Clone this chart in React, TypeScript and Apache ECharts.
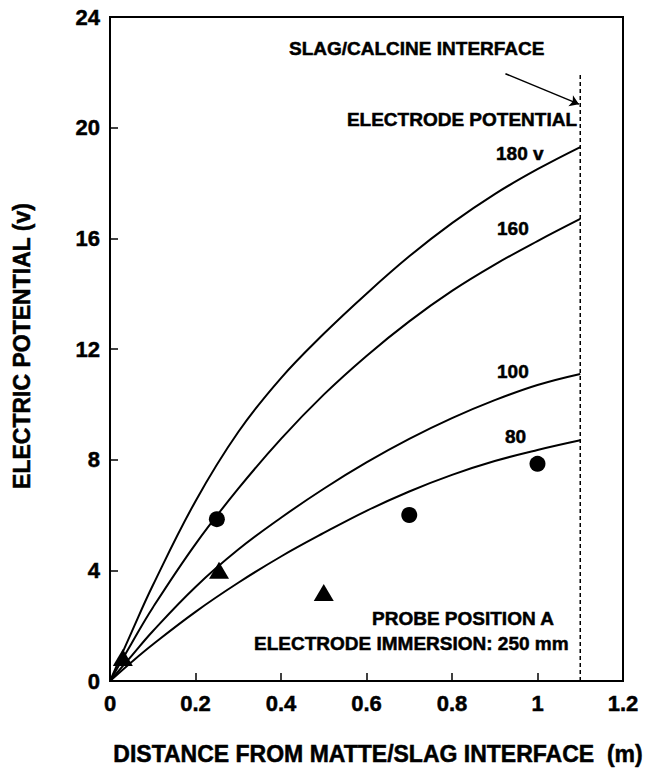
import React, { useEffect, useRef } from "react";
import * as echarts from "echarts";

const xValues = [0, 0.05, 0.1, 0.2, 0.3, 0.4, 0.5, 0.6, 0.7, 0.8, 0.9, 1.0, 1.1];
const curve180 = [0, 1.75, 3.45, 6.5, 9.0, 10.95, 12.55, 14.0, 15.35, 16.55, 17.6, 18.5, 19.3];
const curve160 = [0, 1.35, 2.65, 4.95, 6.95, 8.75, 10.35, 11.75, 13.0, 14.1, 15.05, 15.9, 16.7];
const curve100 = [0, 0.9, 1.8, 3.4, 4.75, 5.9, 6.95, 7.9, 8.75, 9.5, 10.15, 10.7, 11.1];
const curve80 = [0, 0.68, 1.32, 2.5, 3.55, 4.5, 5.35, 6.15, 6.85, 7.45, 7.95, 8.35, 8.7];

const circlePts = [
  [0.25, 5.85],
  [0.7, 6.0],
  [1.0, 7.85],
];
const trianglePts = [
  [0.03, 0.85],
  [0.255, 4.0],
  [0.5, 3.2],
];
const interfaceLine = [
  [1.1, 0],
  [1.1, 21.9],
];
const arrowCoords = [
  [0.925, 21.95],
  [1.097, 20.85],
];

const xTicks = { min: 0, max: 1.2, interval: 0.2 };
const yTicks = { min: 0, max: 24, interval: 4 };

const FONT = "'Liberation Sans', Arial, Helvetica, sans-serif";

function pair(xs: number[], ys: number[]) {
  return xs.map((x, i) => [x, ys[i]]);
}

export default function App() {
  const ref = useRef<HTMLDivElement>(null);
  useEffect(() => {
    document.body.style.margin = "0";
    if (!ref.current) return;
    const chart = echarts.init(ref.current, null, { renderer: "svg" });
    const lineBase = {
      type: "line" as const,
      smooth: 0.4,
      showSymbol: false,
      symbol: "none",
      lineStyle: { color: "#000", width: 2 },
      silent: true,
    };
    const txt = (text: string, x: number, y: number, size = 19, align = "left") => ({
      type: "text",
      x,
      y,
      style: {
        text,
        font: `bold ${size}px ${FONT}`,
        fill: "#000",
        stroke: "#000",
        lineWidth: 0.5,
        textAlign: align,
        textVerticalAlign: "middle",
      },
    });
    const axisLabel = {
      color: "#000",
      fontFamily: FONT,
      fontWeight: "bold",
      fontSize: 22,
      margin: 11,
      textBorderColor: "#000",
      textBorderWidth: 0.5,
    };
    chart.setOption({
      animation: false,
      backgroundColor: "#fff",
      grid: {
        left: 110,
        right: 37,
        top: 17,
        bottom: 87,
        show: true,
        borderColor: "#000",
        borderWidth: 2,
        containLabel: false,
      },
      xAxis: {
        type: "value",
        min: xTicks.min,
        max: xTicks.max,
        interval: xTicks.interval,
        axisLine: { show: true, lineStyle: { color: "#000", width: 2 } },
        axisTick: { show: true, inside: true, length: 8, lineStyle: { color: "#000", width: 1.5 } },
        splitLine: { show: false },
        axisLabel: {
          ...axisLabel,
          formatter: (v: number) => String(Math.round(v * 10) / 10),
        },
      },
      yAxis: {
        type: "value",
        min: yTicks.min,
        max: yTicks.max,
        interval: yTicks.interval,
        axisLine: { show: true, lineStyle: { color: "#000", width: 2 } },
        axisTick: { show: true, inside: true, length: 8, lineStyle: { color: "#000", width: 1.5 } },
        splitLine: { show: false },
        axisLabel: { ...axisLabel, margin: 10 },
      },
      series: [
        { ...lineBase, name: "180 v", data: pair(xValues, curve180) },
        { ...lineBase, name: "160", data: pair(xValues, curve160) },
        { ...lineBase, name: "100", data: pair(xValues, curve100) },
        { ...lineBase, name: "80", data: pair(xValues, curve80) },
        {
          type: "line",
          name: "interface",
          data: interfaceLine,
          showSymbol: false,
          symbol: "none",
          lineStyle: { color: "#000", width: 1.5, type: [4, 3] },
          silent: true,
        },
        {
          type: "lines",
          coordinateSystem: "cartesian2d",
          symbol: ["none", "arrow"],
          symbolSize: 9,
          lineStyle: { color: "#000", width: 1.5, opacity: 1 },
          data: [{ coords: arrowCoords }],
          silent: true,
        },
        {
          type: "scatter",
          name: "circles",
          symbol: "circle",
          symbolSize: 16,
          itemStyle: { color: "#000", opacity: 1 },
          data: circlePts,
          silent: true,
        },
        {
          type: "scatter",
          name: "triangles",
          symbol: "triangle",
          symbolSize: [20, 17],
          itemStyle: { color: "#000", opacity: 1 },
          data: trianglePts,
          silent: true,
        },
      ],
      graphic: [
        txt("SLAG/CALCINE INTERFACE", 289, 48),
        txt("ELECTRODE POTENTIAL", 577, 119, 19, "right"),
        txt("180 v", 496, 153),
        txt("160", 497, 228),
        txt("100", 497, 371),
        txt("80", 505, 436),
        txt("PROBE POSITION A", 372, 618),
        txt("ELECTRODE IMMERSION: 250 mm", 254, 643),
        txt("DISTANCE FROM MATTE/SLAG INTERFACE  (m)", 378, 754, 23, "center"),
        {
          type: "text",
          x: 22,
          y: 346,
          rotation: Math.PI / 2,
          style: {
            text: "ELECTRIC POTENTIAL (v)",
            font: `bold 23px ${FONT}`,
            fill: "#000",
            stroke: "#000",
            lineWidth: 0.5,
            textAlign: "center",
            textVerticalAlign: "middle",
          },
        },
      ],
    });
    return () => chart.dispose();
  }, []);
  return <div ref={ref} style={{ width: 660, height: 768 }} />;
}
